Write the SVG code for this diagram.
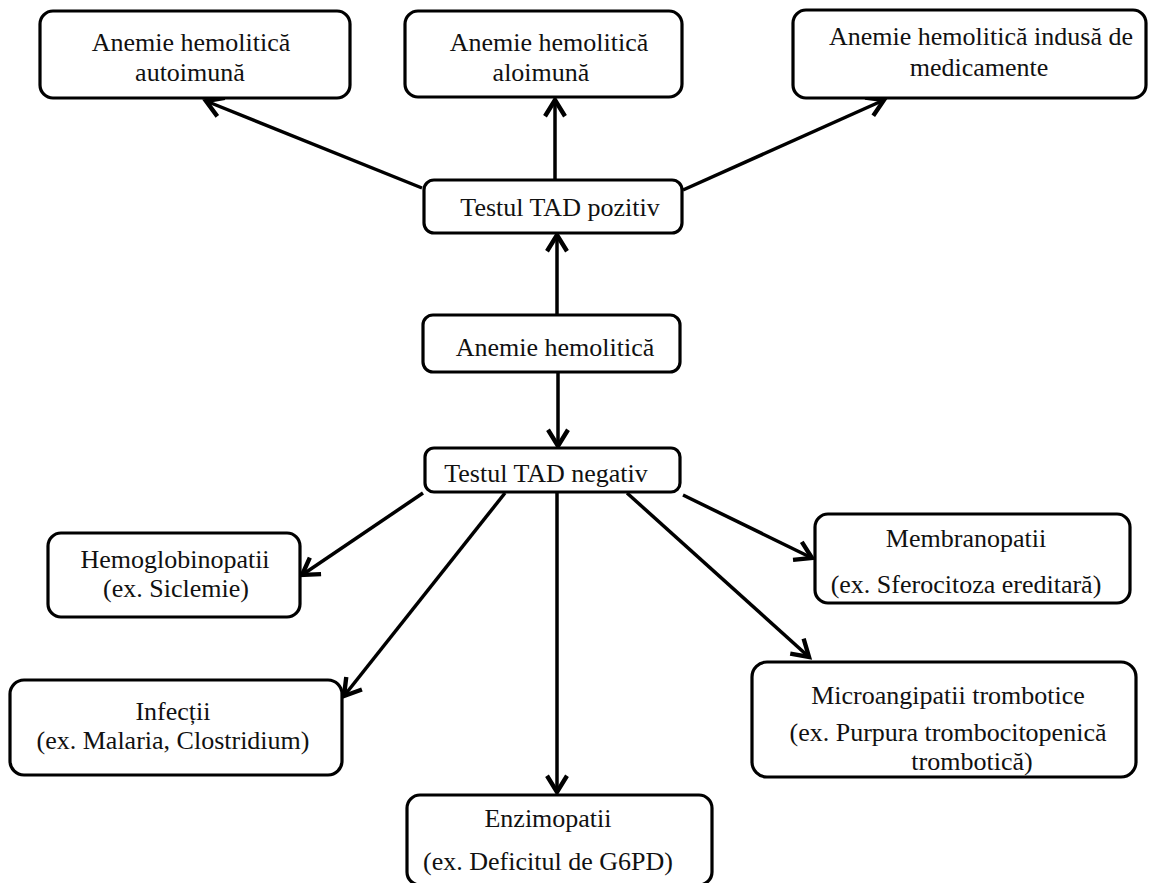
<svg xmlns="http://www.w3.org/2000/svg" width="1151" height="883" viewBox="0 0 1151 883">
<style>
.box{fill:#fff;stroke:#000;stroke-width:3.2}
.t{font-family:"Liberation Serif","Times New Roman",serif;font-size:26px;fill:#111;text-anchor:middle}
.c{fill:none;stroke:#000;stroke-width:3.5}
</style>
<defs>
<marker id="ah" markerUnits="userSpaceOnUse" markerWidth="30" markerHeight="30" refX="0" refY="0" viewBox="-16 -12 20 24" orient="auto" overflow="visible">
<path d="M -13 -8 L 0 0 L -13 8" fill="none" stroke="#000" stroke-width="3.5" stroke-linejoin="miter"/>
</marker>
</defs>
<rect width="1151" height="883" fill="#fff"/>
<g id="connectors">
<line class="c" x1="422" y1="188" x2="206" y2="101" marker-end="url(#ah)"/>
<line class="c" x1="555" y1="180" x2="555" y2="100" marker-end="url(#ah)"/>
<line class="c" x1="683" y1="190" x2="884" y2="100" marker-end="url(#ah)"/>
<line class="c" x1="557" y1="315" x2="557" y2="235" marker-end="url(#ah)"/>
<line class="c" x1="558" y1="372" x2="558" y2="446" marker-end="url(#ah)"/>
<line class="c" x1="423" y1="493" x2="302" y2="575" marker-end="url(#ah)"/>
<line class="c" x1="505" y1="493" x2="344" y2="696" marker-end="url(#ah)"/>
<line class="c" x1="557" y1="493" x2="557" y2="792" marker-end="url(#ah)"/>
<line class="c" x1="683" y1="495" x2="812" y2="558" marker-end="url(#ah)"/>
<line class="c" x1="627" y1="493" x2="809" y2="657" marker-end="url(#ah)"/>
</g>
<g id="n-autoimuna">
<rect class="box" x="40" y="11" width="310" height="87" rx="13"/>
<text class="t" x="191" y="51">Anemie hemolitică</text>
<text class="t" x="190" y="81">autoimună</text>
</g>
<g id="n-aloimuna">
<rect class="box" x="405" y="11" width="277" height="86" rx="13"/>
<text class="t" x="549" y="51">Anemie hemolitică</text>
<text class="t" x="541" y="81">aloimună</text>
</g>
<g id="n-medicamente">
<rect class="box" x="793" y="10" width="353" height="88" rx="13"/>
<text class="t" x="981" y="45">Anemie hemolitică indusă de</text>
<text class="t" x="979" y="76">medicamente</text>
</g>
<g id="n-pozitiv">
<rect class="box" x="424" y="180" width="258" height="53" rx="10"/>
<text class="t" x="560" y="216">Testul TAD pozitiv</text>
</g>
<g id="n-anemie">
<rect class="box" x="423" y="315" width="257" height="57" rx="10"/>
<text class="t" x="555" y="356">Anemie hemolitică</text>
</g>
<g id="n-negativ">
<rect class="box" x="425" y="448" width="255" height="44" rx="9"/>
<text class="t" x="546" y="482">Testul TAD negativ</text>
</g>
<g id="n-hemoglobinopatii">
<rect class="box" x="48" y="533" width="252" height="84" rx="13"/>
<text class="t" x="175" y="568">Hemoglobinopatii</text>
<text class="t" x="176" y="597">(ex. Siclemie)</text>
</g>
<g id="n-membranopatii">
<rect class="box" x="815" y="514" width="315" height="89" rx="13"/>
<text class="t" x="966" y="547">Membranopatii</text>
<text class="t" x="966" y="593">(ex. Sferocitoza ereditară)</text>
</g>
<g id="n-infectii">
<rect class="box" x="10" y="680" width="332" height="95" rx="14"/>
<text class="t" x="173" y="720">Infecții</text>
<text class="t" x="173" y="749">(ex. Malaria, Clostridium)</text>
</g>
<g id="n-microangipatii">
<rect class="box" x="752" y="662" width="384" height="115" rx="15"/>
<text class="t" x="948" y="704">Microangipatii trombotice</text>
<text class="t" x="948" y="741">(ex. Purpura trombocitopenică</text>
<text class="t" x="972" y="770">trombotică)</text>
</g>
<g id="n-enzimopatii">
<rect class="box" x="407" y="795" width="305" height="90" rx="13"/>
<text class="t" x="548" y="827">Enzimopatii</text>
<text class="t" x="548" y="870">(ex. Deficitul de G6PD)</text>
</g>
</svg>
